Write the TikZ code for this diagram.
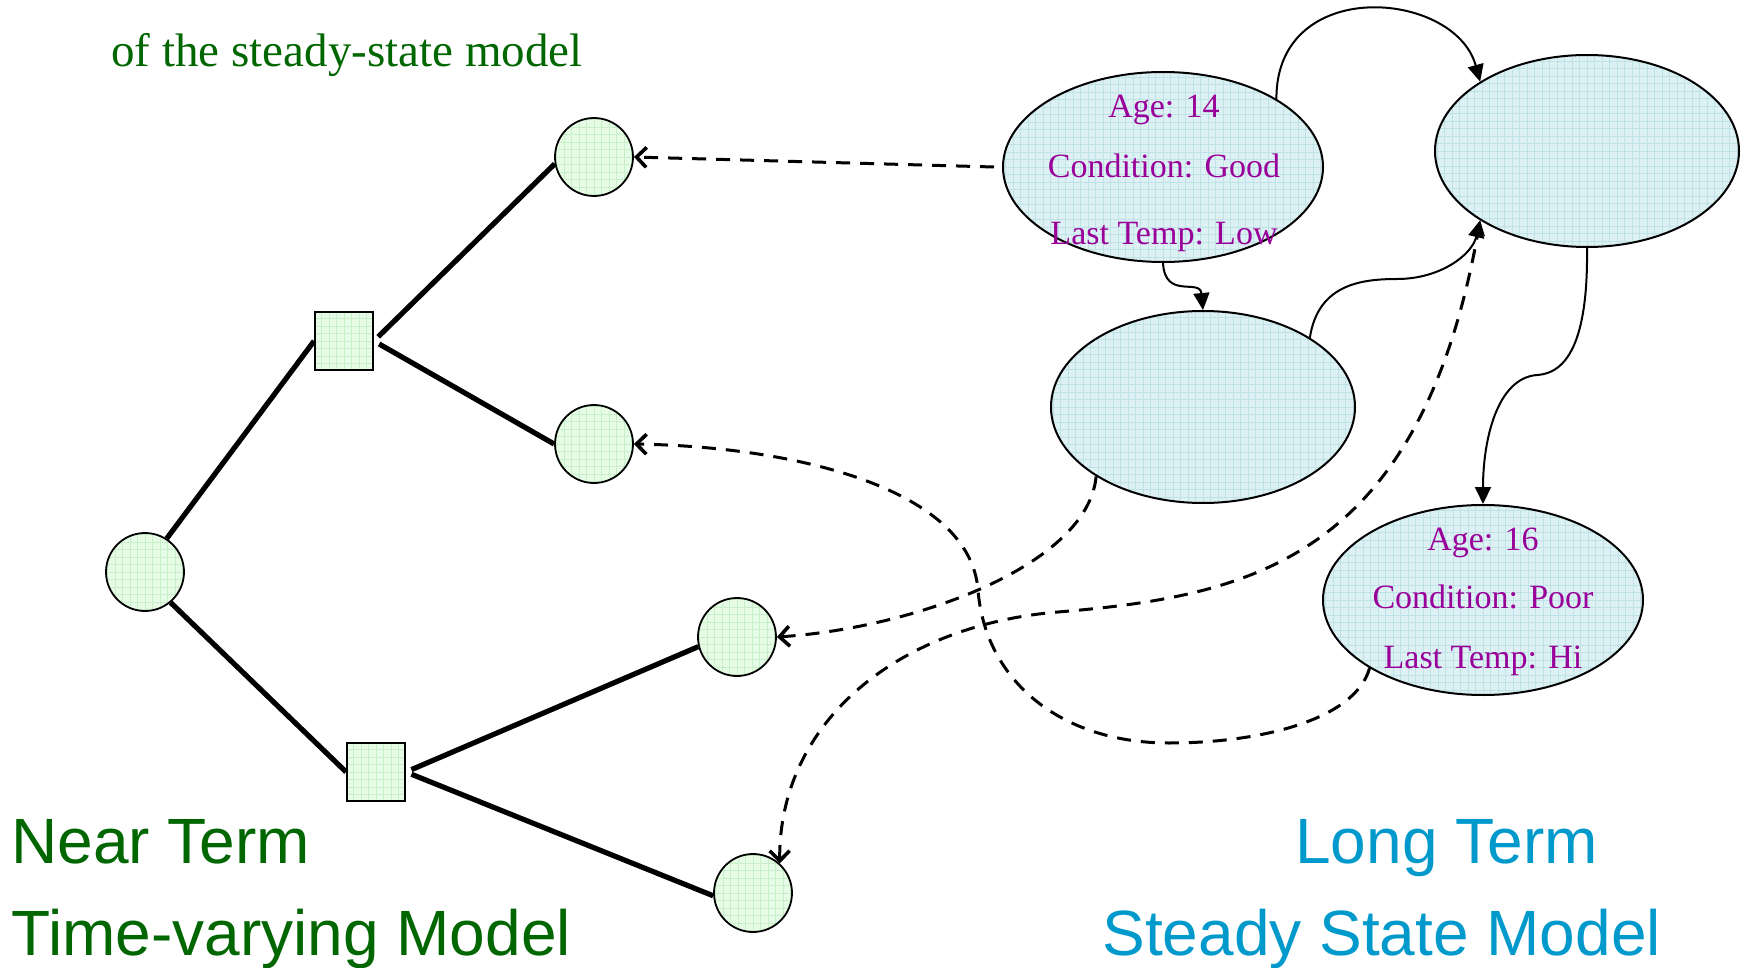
\documentclass[tikz,border=0pt]{standalone}
\usepackage{fontspec}
\newfontfamily\labelfont{Liberation Sans}
\newfontfamily\serfont{Liberation Serif}
\usetikzlibrary{arrows.meta,shapes.geometric}
\definecolor{dkgreen}{RGB}{0,102,0}
\definecolor{ltblue}{RGB}{0,153,204}
\definecolor{purp}{RGB}{153,0,153}
\definecolor{ellfill}{RGB}{221,240,243}
\definecolor{ellgrid}{RGB}{190,226,229}
\definecolor{cirfill}{RGB}{230,252,230}
\definecolor{cirgrid}{RGB}{200,240,200}
\begin{document}
\begin{tikzpicture}[x=0.5pt,y=-0.5pt,
  gridded/.style 2 args={fill=#1, path picture={\draw[#2,line width=0.35pt] (path picture bounding box.south west) grid[step=3.75pt] (path picture bounding box.north east);}},
  ssbig/.style={ellipse, draw, line width=1pt, minimum width=160pt, minimum height=95pt, inner sep=0pt, gridded={ellfill}{ellgrid}},
  sssmall/.style={ellipse, draw, line width=1pt, minimum width=152pt, minimum height=96pt, inner sep=0pt, gridded={ellfill}{ellgrid}},
  chance/.style={circle, draw, line width=0.9pt, minimum size=39pt, inner sep=0pt, gridded={cirfill}{cirgrid}},
  choice/.style={rectangle, draw, line width=0.9pt, minimum size=29pt, inner sep=0pt, gridded={cirfill}{cirgrid}},
  branch/.style={line width=2.6pt},
  dlink/.style={line width=1.5pt, dash pattern=on 7pt off 5pt},
  slink/.style={line width=1pt, -{Triangle[length=8.5pt,width=8pt]}},
  totip/.style={-{Straight Barb[length=5pt,width=10pt,line width=1.8pt]}},
  stxt/.style={text=purp, font=\serfont\fontsize{17}{20}\selectfont, anchor=base, inner sep=0pt},
  biglabel/.style={font=\labelfont\fontsize{32}{36}\selectfont, anchor=base west, inner sep=0pt}
]
\fill[white] (0,0) rectangle (1746,968);
\path[use as bounding box] (0,0) rectangle (1746,968);

% title
\node[text=dkgreen, font=\serfont\fontsize{23.5}{27}\selectfont, anchor=base west, inner sep=0pt] (title) at (111,67) {of the steady-state model};

% tree nodes
\node[chance] (c0) at (145,572) {};
\node[choice] (s1) at (344,341) {};
\node[choice] (s2) at (376,772) {};
\node[chance] (c1) at (594,157) {};
\node[chance] (c2) at (594,444) {};
\node[chance] (c3) at (737,637) {};
\node[chance] (c4) at (753,893) {};

% tree edges
\draw[branch] (c0.57) -- (s1.west);
\draw[branch] (c0.-50) -- (s2.west);
\draw[branch, shorten <=3pt] (s1.east) -- (c1.190);
\draw[branch, shorten <=3pt] (s1.east) -- (c2.west);
\draw[branch, shorten <=3pt] (s2.east) -- (c3.194);
\draw[branch, shorten <=3pt] (s2.east) -- (c4.184);

% steady state ellipses
\node[ssbig] (E1) at (1163,167) {};
\node[sssmall] (E2) at (1587,151) {};
\node[sssmall] (E3) at (1203,407) {};
\node[ssbig] (E4) at (1483,600) {};

% solid transitions
\draw[slink] (E1.31) .. controls (1276,-25) and (1455,-10) .. (E2.147);
\draw[slink] (E1.south) .. controls (1165,300) and (1200,278) .. (E3.north);
\draw[slink] (E3.33) .. controls (1318,285) and (1360,279) .. (1397,279) .. controls (1440,279) and (1472,255) .. (E2.213);
\draw[slink] (E2.south) .. controls (1588,330) and (1572,373) .. (1537,375) .. controls (1497,378) and (1483,440) .. (E4.north);

% dashed mappings
\draw[dlink, totip] ([xshift=-4pt]E1.west) -- (c1.east);
\draw[dlink, totip] (E4.211) .. controls (1355,720) and (1260,743) .. (1169,743) .. controls (1060,743) and (985,680) .. (978,590) .. controls (970,490) and (800,447) .. (c2.east);
\draw[dlink, totip] (E3.213) .. controls (1088,565) and (915,628) .. (c3.east);
\draw[dlink, {Straight Barb[length=5pt,width=10pt,line width=1.8pt]}-{Stealth[length=7.5pt,width=7.5pt]}] (c4.48) .. controls (779,720) and (900,625) .. (1058,612) .. controls (1250,596) and (1420,560) .. (E2.213);

% ellipse texts
\node[stxt] (e1a) at (1164,118) {Age: 14};
\node[stxt] (e1b) at (1164,178) {Condition: Good};
\node[stxt] (e1c) at (1164,245) {Last Temp: Low};
\node[stxt] (e4a) at (1483,550) {Age: 16};
\node[stxt] (e4b) at (1483,608) {Condition: Poor};
\node[stxt] (e4c) at (1483,668) {Last Temp: Hi};

% big labels
\node[biglabel, text=dkgreen] (nt) at (11,863) {Near Term};
\node[biglabel, text=dkgreen] (tv) at (11,955) {Time-varying Model};
\node[biglabel, text=ltblue] (lt) at (1295,863) {Long Term};
\node[biglabel, text=ltblue] (ssm) at (1102,955) {Steady State Model};
\end{tikzpicture}
\end{document}
